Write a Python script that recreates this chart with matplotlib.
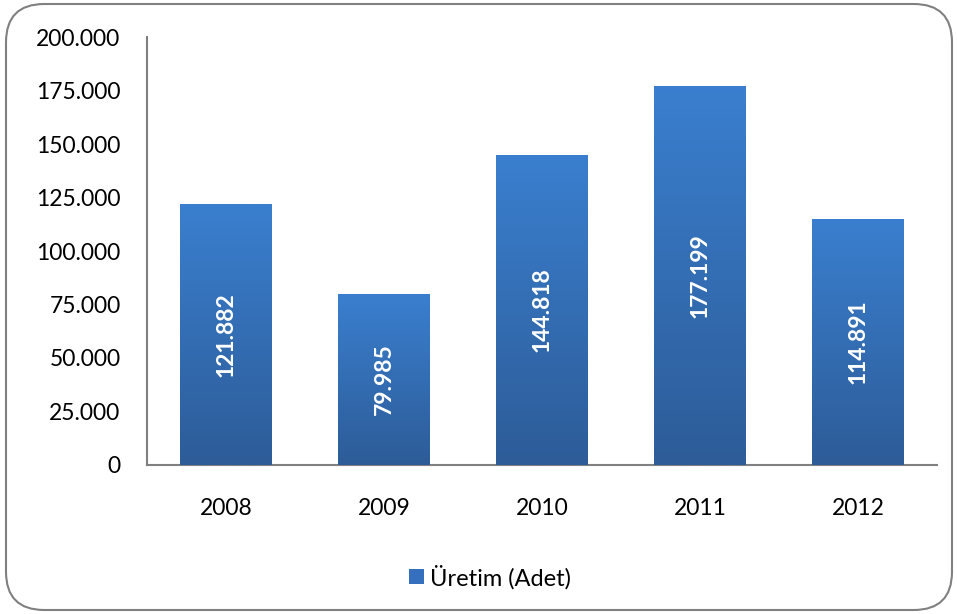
import matplotlib.pyplot as plt
import numpy as np
from matplotlib.patches import FancyBboxPatch
from matplotlib.ticker import FuncFormatter
from matplotlib.colors import LinearSegmentedColormap

years = ['2008', '2009', '2010', '2011', '2012']
uretim = [121882, 79985, 144818, 177199, 114891]
series_name = 'Üretim (Adet)'

plt.rcParams['font.family'] = ['Lato', 'DejaVu Sans']

fig = plt.figure(figsize=(9.57, 6.14), dpi=100)
ax = fig.add_axes([0.1536, 0.2427, 0.8255, 0.697])

x = np.arange(len(years))
bars = ax.bar(x, uretim, width=0.58, color='#3470bd', zorder=2)

# vertical gradient inside each bar (light top, dark bottom)
grad = np.linspace(0, 1, 256).reshape(-1, 1)
cmap = LinearSegmentedColormap.from_list('g', ['#2d5c98', '#3a7fcf'])
for b in bars:
    x0, w, h = b.get_x(), b.get_width(), b.get_height()
    im = ax.imshow(grad, cmap=cmap, aspect='auto', origin='lower',
                   extent=(x0, x0 + w, 0, h), zorder=3)
    im.set_clip_path(b)
    ax.text(x0 + w / 2, h / 2, f'{h / 1000:.3f}', rotation=90, ha='center', va='center',
            color='white', fontsize=16.5, fontweight='bold', zorder=4)

ax.set_xlim(-0.5, len(years) - 0.5)
ax.set_ylim(0, 200000)
ax.set_yticks(np.arange(0, 200001, 25000))
ax.yaxis.set_major_formatter(FuncFormatter(lambda v, p: '0' if v == 0 else f'{v / 1000:.3f}'))
ax.set_xticks(x)
ax.set_xticklabels(years)
ax.tick_params(axis='y', length=0, labelsize=16.5, pad=19)
ax.tick_params(axis='x', length=0, labelsize=16.5, pad=24)
for s in ['top', 'right']:
    ax.spines[s].set_visible(False)
ax.spines['left'].set_color('#808080')
ax.spines['bottom'].set_color('#808080')
ax.spines['left'].set_linewidth(1.5)
ax.spines['bottom'].set_linewidth(1.5)

ax.legend([bars[0]], [series_name], loc='center', bbox_to_anchor=(490 / 957, 1 - 577 / 614),
          bbox_transform=fig.transFigure, frameon=False, fontsize=17, handlelength=0.6,
          handleheight=0.6, handletextpad=0.25)

frame = FancyBboxPatch((6 / 957, 4 / 614), 946 / 957, 606 / 614,
                       boxstyle='round,pad=0,rounding_size=0.04', transform=fig.transFigure,
                       facecolor='none', edgecolor='#808080', linewidth=1.5, mutation_aspect=957 / 614)
fig.patches.append(frame)

fig.savefig('out.png', dpi=100)
